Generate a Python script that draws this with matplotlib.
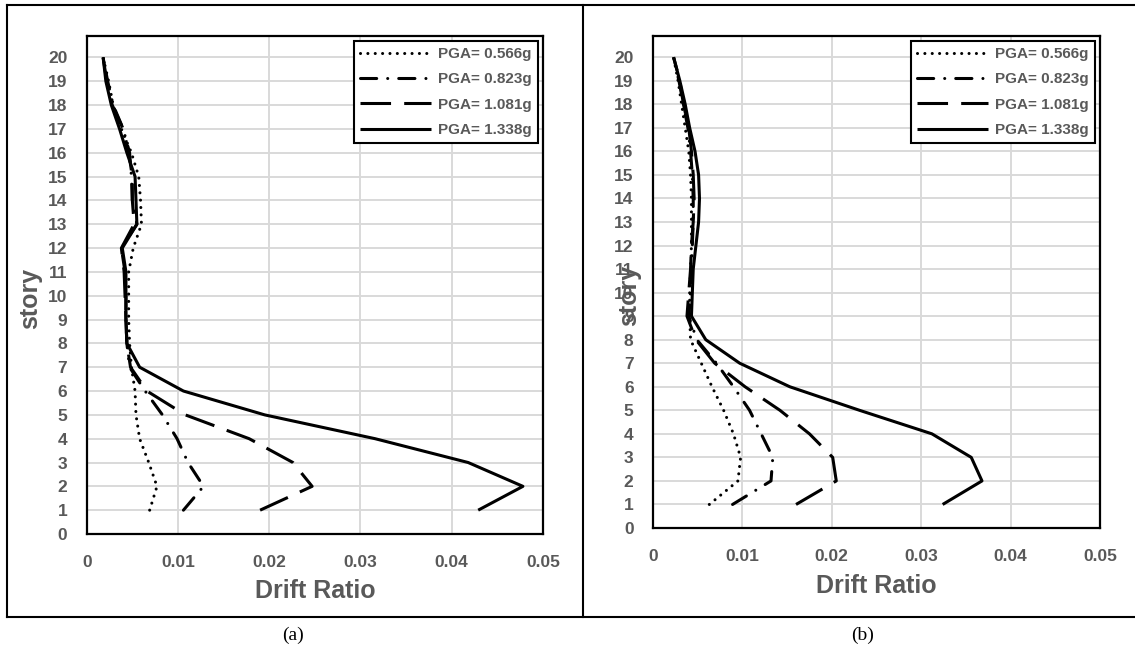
import matplotlib
matplotlib.use("Agg")
import matplotlib.pyplot as plt
from matplotlib.lines import Line2D

plt.rcParams['font.family'] = ['Liberation Sans', 'DejaVu Sans']

stories = list(range(1, 21))
story_ticks = list(range(0, 21))
drift_ticks = [0, 0.01, 0.02, 0.03, 0.04, 0.05]
drift_tick_labels = ['0', '0.01', '0.02', '0.03', '0.04', '0.05']
series_labels = ['PGA= 0.566g', 'PGA= 0.823g', 'PGA= 1.081g', 'PGA= 1.338g']

# Panel (a): inter-story drift ratio per story
drift_a_0566 = [0.0069, 0.0077, 0.0068, 0.0058, 0.0054, 0.0053, 0.0049, 0.0047, 0.0046, 0.0046,
                0.0046, 0.0051, 0.0060, 0.0059, 0.0057, 0.0049, 0.0038, 0.0029, 0.0024, 0.0018]
drift_a_0823 = [0.0106, 0.0128, 0.0111, 0.0099, 0.0083, 0.0064, 0.0047, 0.0044, 0.0043, 0.0043,
                0.0042, 0.0038, 0.0055, 0.0050, 0.0049, 0.0047, 0.0040, 0.0029, 0.0023, 0.0018]
drift_a_1081 = [0.0190, 0.0247, 0.0226, 0.0178, 0.0108, 0.0066, 0.0048, 0.0044, 0.0043, 0.0042,
                0.0041, 0.0038, 0.0052, 0.0050, 0.0050, 0.0046, 0.0040, 0.0028, 0.0022, 0.0018]
drift_a_1338 = [0.0429, 0.0478, 0.0418, 0.0316, 0.0195, 0.0106, 0.0058, 0.0044, 0.0043, 0.0043,
                0.0043, 0.0039, 0.0055, 0.0054, 0.0053, 0.0044, 0.0036, 0.0027, 0.0021, 0.0018]

# Panel (b)
drift_b_0566 = [0.0063, 0.0095, 0.0098, 0.0090, 0.0079, 0.0066, 0.0054, 0.0042, 0.0041, 0.0041,
                0.0042, 0.0043, 0.0043, 0.0043, 0.0042, 0.0040, 0.0036, 0.0032, 0.0028, 0.0023]
drift_b_0823 = [0.0089, 0.0132, 0.0134, 0.0121, 0.0108, 0.0090, 0.0071, 0.0049, 0.0040, 0.0042,
                0.0043, 0.0044, 0.0045, 0.0045, 0.0044, 0.0042, 0.0039, 0.0034, 0.0029, 0.0023]
drift_b_1081 = [0.0160, 0.0205, 0.0201, 0.0175, 0.0142, 0.0103, 0.0069, 0.0048, 0.0038, 0.0040,
                0.0042, 0.0043, 0.0045, 0.0046, 0.0045, 0.0043, 0.0040, 0.0034, 0.0030, 0.0023]
drift_b_1338 = [0.0324, 0.0368, 0.0356, 0.0312, 0.0231, 0.0153, 0.0097, 0.0059, 0.0043, 0.0044,
                0.0045, 0.0048, 0.0051, 0.0052, 0.0051, 0.0047, 0.0041, 0.0036, 0.0030, 0.0023]

GRAY = '#595959'
LW = 2.2
line_styles = [
    dict(dashes=(0.01, 2.4), dash_capstyle='round'),
    dict(dashes=(5.3, 3.6, 0.01, 3.6), dash_capstyle='round'),
    dict(dashes=(10, 4.3), dash_capstyle='butt'),
    dict(linestyle='-', solid_capstyle='butt'),
]

fig = plt.figure(figsize=(11.35, 6.51), dpi=100)


def draw_panel(rect, series, caption, caption_x, xlabel_y, ylabel_x):
    ax = fig.add_axes(rect)
    for vals, lab, st in zip(series, series_labels, line_styles):
        ax.plot(vals, stories, color='black', linewidth=LW, label=lab, **st)
    ax.set_xlim(0, 0.05)
    ax.set_ylim(0, 20.9)
    ax.set_xticks(drift_ticks)
    ax.set_xticklabels(drift_tick_labels)
    ax.set_yticks(story_ticks)
    ax.grid(True, color='#d9d9d9', linewidth=1.4)
    ax.set_axisbelow(True)
    for sp in ax.spines.values():
        sp.set_linewidth(1.6)
        sp.set_color('black')
    ax.tick_params(length=0, labelsize=12.5, labelcolor=GRAY)
    ax.tick_params(axis='x', pad=15)
    ax.tick_params(axis='y', pad=14)
    for t in ax.get_xticklabels() + ax.get_yticklabels():
        t.set_fontweight('bold')
    fig.text(rect[0] + rect[2] / 2, xlabel_y, 'Drift Ratio', ha='center', va='center',
             fontsize=18, fontweight='bold', color=GRAY)
    fig.text(ylabel_x, rect[1] + rect[3] / 2 - 0.02, 'story', ha='center', va='center',
             rotation=90, fontsize=18, fontweight='bold', color=GRAY)
    leg = ax.legend(loc='upper right', handlelength=4.6, labelspacing=0.74,
                    borderaxespad=0.32, borderpad=0.4, handletextpad=0.5,
                    fancybox=False, framealpha=1,
                    prop=dict(family='Liberation Sans', weight='bold', size=11))
    leg.get_frame().set_edgecolor('black')
    leg.get_frame().set_linewidth(1.5)
    for t in leg.get_texts():
        t.set_color(GRAY)
    fig.text(caption_x, 1 - 635 / 651, caption, ha='center', va='center',
             fontsize=14, family='Liberation Serif')
    return ax


W, H = 1135, 651
draw_panel([86.7 / W, 1 - 534 / H, (543 - 86.7) / W, (534 - 36) / H],
           [drift_a_0566, drift_a_0823, drift_a_1081, drift_a_1338],
           '(a)', 293 / W, 1 - 591 / H, 30 / W)
draw_panel([653 / W, 1 - 528 / H, (1100 - 653) / W, (528 - 36) / H],
           [drift_b_0566, drift_b_0823, drift_b_1081, drift_b_1338],
           '(b)', 863 / W, 1 - 586 / H, 629 / W)

# Table-style frame lines around the two panels
frame_kw = dict(color='black', linewidth=1.5, transform=fig.transFigure)
fig.add_artist(Line2D([7 / W, 1.0], [1 - 5 / H, 1 - 5 / H], **frame_kw))
fig.add_artist(Line2D([7 / W, 1.0], [1 - 617 / H, 1 - 617 / H], **frame_kw))
fig.add_artist(Line2D([7 / W, 7 / W], [1 - 5 / H, 1 - 617 / H], **frame_kw))
fig.add_artist(Line2D([583 / W, 583 / W], [1 - 5 / H, 1 - 617 / H], **frame_kw))

fig.savefig('out.png', dpi=100)
